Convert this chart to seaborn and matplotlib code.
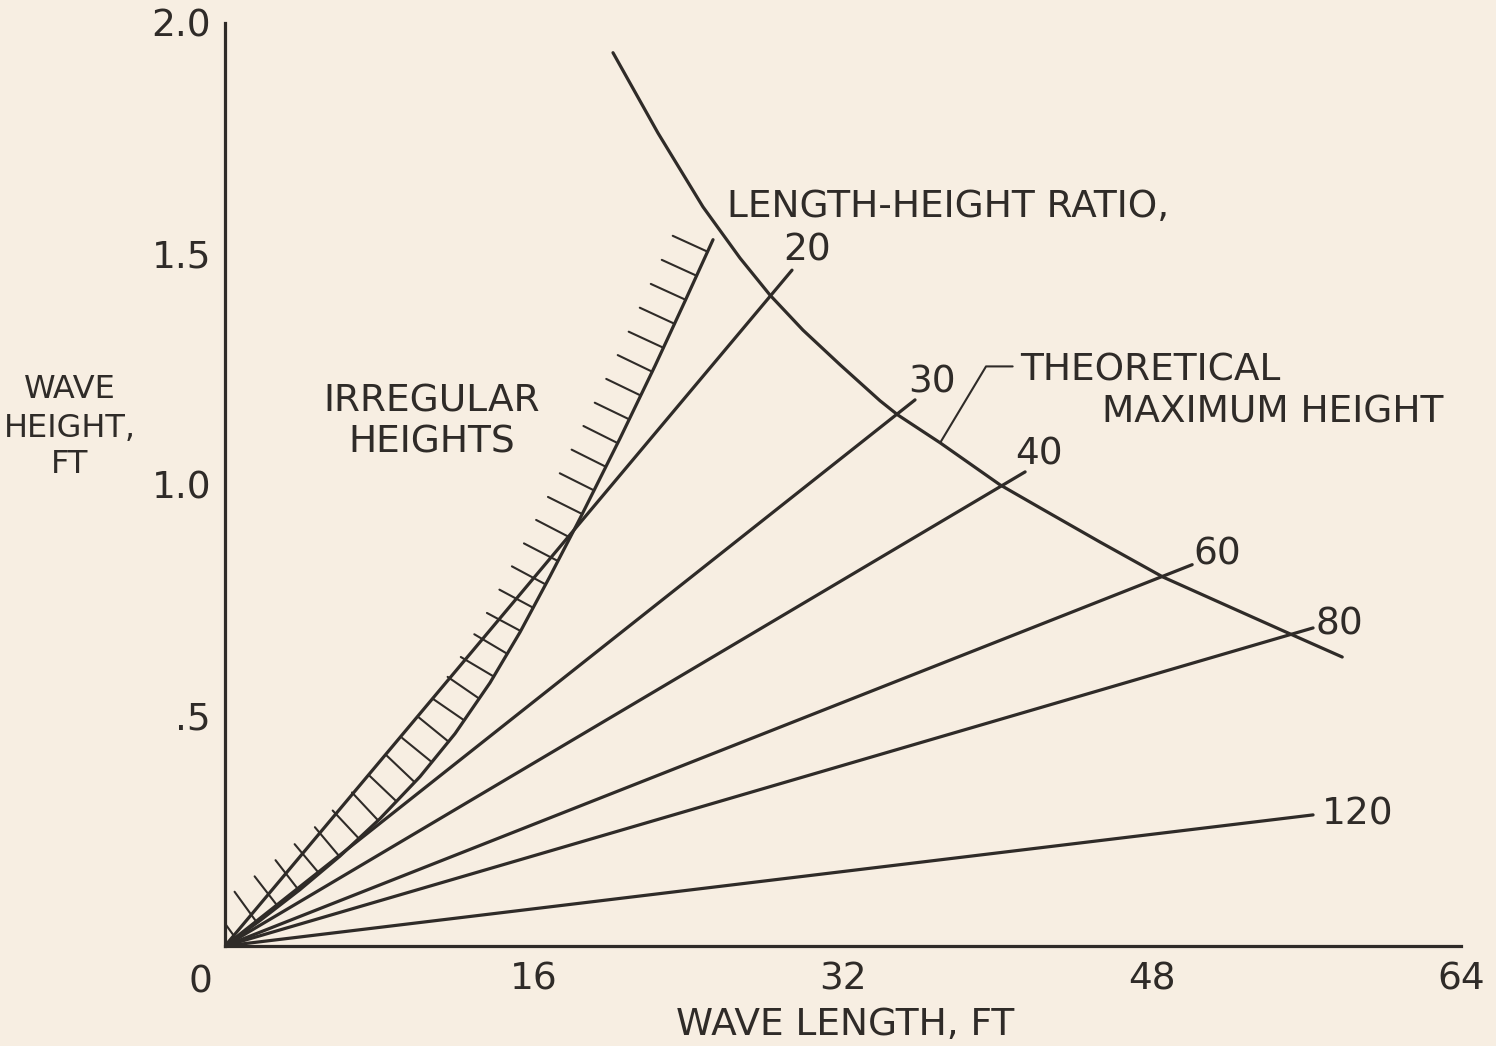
import numpy as np
import pandas as pd
import seaborn as sns
import matplotlib.pyplot as plt
from matplotlib import patheffects

# length-height ratio lines: each runs from the origin to its end point
ratios = [20, 30, 40, 60, 80, 120]
ratio_end_length = [29.36, 35.73, 41.43, 50.08, 56.34, 56.34]
ratio_end_height = [1.464, 1.183, 1.027, 0.826, 0.689, 0.284]

# theoretical maximum height curve
max_length = [20.09, 22.42, 24.75, 26.67, 28.22, 29.93, 31.85, 33.92, 34.85, 37.03,
              40.13, 42.21, 45.31, 48.58, 52.05, 55.26, 57.85]
max_height = [1.935, 1.761, 1.601, 1.490, 1.410, 1.334, 1.259, 1.181, 1.150, 1.090,
              0.999, 0.949, 0.875, 0.799, 0.734, 0.674, 0.626]

# boundary of the irregular-heights region (hatched side faces up-left)
irr_length = [0.0, 1.81, 3.88, 5.96, 8.03, 10.10, 11.91, 13.72, 15.28, 16.83, 18.38,
              20.46, 22.27, 23.82, 25.27]
irr_height = [0.0, 0.055, 0.122, 0.195, 0.276, 0.367, 0.460, 0.570, 0.680, 0.801, 0.926,
              1.100, 1.257, 1.397, 1.530]

x_ticks = [16, 32, 48, 64]
x_tick_labels = ["16", "32", "48", "64"]
y_ticks = [0.5, 1.0, 1.5, 2.0]
y_tick_labels = [".5", "1.0", "1.5", "2.0"]

PAPER = "#f7eee2"
INK = "#2f2b28"
FS = 27
LW = 2.3

sns.set_theme(style="white", rc={"axes.facecolor": PAPER, "figure.facecolor": PAPER,
                                 "savefig.facecolor": PAPER})
plt.rcParams["font.family"] = ["DejaVu Sans"]

fig, ax = plt.subplots(figsize=(14.96, 10.46), dpi=100)
fig.subplots_adjust(left=225 / 1496, right=1461 / 1496, bottom=1 - 946 / 1046, top=1 - 22.7 / 1046)

# ratio lines, one unit per ratio
rows = []
for r, x, y in zip(ratios, ratio_end_length, ratio_end_height):
    rows.append({"length": 0.0, "height": 0.0, "ratio": r})
    rows.append({"length": x, "height": y, "ratio": r})
df_ratio = pd.DataFrame(rows)
sns.lineplot(data=df_ratio, x="length", y="height", units="ratio", estimator=None,
             sort=False, color=INK, lw=LW, legend=False, ax=ax)

# theoretical maximum height
sns.lineplot(x=max_length, y=max_height, estimator=None, sort=False, color=INK, lw=LW, ax=ax)

# irregular heights boundary with hatching
sns.lineplot(x=irr_length, y=irr_height, estimator=None, sort=False, color=INK, lw=LW, ax=ax)
ax.lines[-1].set_path_effects([patheffects.withTickedStroke(spacing=19, angle=90, length=1.45,
                                                            linewidth=1.5)])

# ratio labels next to the line ends (offsets in points)
label_offsets = {20: (11, 7, "center"), 30: (12, 5, "center"), 40: (10, 5, "center"),
                 60: (1, 0, "left"), 80: (2, -5, "left"), 120: (6, -7, "left")}
for r, x, y in zip(ratios, ratio_end_length, ratio_end_height):
    dx, dy, ha = label_offsets[r]
    ax.annotate(str(r), xy=(x, y), xytext=(dx, dy), textcoords="offset points",
                ha=ha, va="baseline", fontsize=FS, color=INK)

ax.text(26.0, 1.579, "LENGTH-HEIGHT RATIO,", ha="left", va="baseline", fontsize=FS, color=INK)
ax.annotate("THEORETICAL", xy=(37.03, 1.090), xytext=(41.17, 1.226), ha="left", va="baseline",
            fontsize=FS, color=INK,
            arrowprops=dict(arrowstyle="-", color=INK, lw=1.5, shrinkA=3, shrinkB=0,
                            relpos=(0, 0.6), connectionstyle="angle,angleA=0,angleB=59,rad=0"))
ax.text(45.4, 1.135, "MAXIMUM HEIGHT", ha="left", va="baseline", fontsize=FS, color=INK)
ax.text(10.72, 1.157, "IRREGULAR", ha="center", va="baseline", fontsize=FS, color=INK)
ax.text(10.72, 1.070, "HEIGHTS", ha="center", va="baseline", fontsize=FS, color=INK)

# axis titles
for txt, yb in zip(["WAVE", "HEIGHT,", "FT"], [1.187, 1.103, 1.025]):
    ax.text(-8.03, yb, txt, ha="center", va="baseline", fontsize=23, color=INK)
ax.text(32.1, -0.193, "WAVE LENGTH, FT", ha="center", va="baseline", fontsize=FS, color=INK)
ax.text(-1.29, -0.0997, "0", ha="center", va="baseline", fontsize=FS, color=INK)

ax.set_xlim(0, 64)
ax.set_ylim(0, 2.0)
ax.set_xticks(x_ticks, x_tick_labels)
ax.set_yticks(y_ticks, y_tick_labels)
ax.set_xlabel("")
ax.set_ylabel("")
sns.despine(ax=ax)
for side in ["left", "bottom"]:
    ax.spines[side].set_linewidth(LW)
    ax.spines[side].set_color(INK)
ax.tick_params(axis="both", direction="in", color=INK, width=1.6, labelsize=FS, labelcolor=INK)
ax.tick_params(axis="x", length=14.5, pad=11.5)
ax.tick_params(axis="y", length=15.8, pad=10)

fig.savefig("out.png", dpi=100)
